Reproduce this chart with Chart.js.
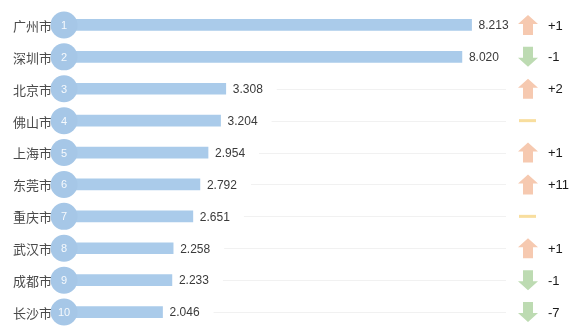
<!DOCTYPE html>
<html>
<head>
<meta charset="utf-8">
<script src="https://cdn.jsdelivr.net/npm/chart.js@4/dist/chart.umd.min.js"></script>
<style>
  html, body { margin: 0; padding: 0; background: #fff; }
  #wrap { width: 587px; height: 334px; position: relative; }
</style>
</head>
<body>
<div id="wrap"><canvas id="chart"></canvas></div>
<script>
// city ranking data
const cities = ['广州市', '深圳市', '北京市', '佛山市', '上海市', '东莞市', '重庆市', '武汉市', '成都市', '长沙市'];
const values = [8.213, 8.020, 3.308, 3.204, 2.954, 2.792, 2.651, 2.258, 2.233, 2.046];
const ranks = [1, 2, 3, 4, 5, 6, 7, 8, 9, 10];
const rankChanges = [1, -1, 2, 0, 1, 11, 0, 1, -1, -7];

const BAR_COLOR = '#aacbea';
const DOT_COLOR = '#a6c7e7';
const UP_COLOR = '#f6c9b0';
const DOWN_COLOR = '#bddbb2';
const FLAT_COLOR = '#f8de9e';
const NUM_FONT = '"Liberation Sans", Arial, sans-serif';
const CJK_FONT = '"Noto Sans CJK SC", sans-serif';

function drawArrow(ctx, cx, cy, up) {
  const dir = up ? -1 : 1;
  ctx.beginPath();
  ctx.moveTo(cx, cy + dir * 10);         // tip
  ctx.lineTo(cx + 10, cy + dir * 1);
  ctx.lineTo(cx + 5, cy + dir * 1);
  ctx.lineTo(cx + 5, cy - dir * 10);
  ctx.lineTo(cx - 5, cy - dir * 10);
  ctx.lineTo(cx - 5, cy + dir * 1);
  ctx.lineTo(cx - 10, cy + dir * 1);
  ctx.closePath();
  ctx.fillStyle = up ? UP_COLOR : DOWN_COLOR;
  ctx.fill();
}

const rowDecor = {
  id: 'rowDecor',
  beforeDatasetsDraw(chart) {
    const { ctx, chartArea } = chart;
    const meta = chart.getDatasetMeta(0);
    ctx.save();
    ctx.font = '12px ' + NUM_FONT;
    meta.data.forEach((bar, i) => {
      const labelEnd = bar.x + 7 + ctx.measureText(values[i].toFixed(3)).width;
      const start = labelEnd + 14;
      if (start < chartArea.right) {
        ctx.strokeStyle = '#f1f1f1';
        ctx.lineWidth = 1;
        ctx.beginPath();
        ctx.moveTo(start, Math.round(bar.y) + 0.5);
        ctx.lineTo(chartArea.right, Math.round(bar.y) + 0.5);
        ctx.stroke();
      }
    });
    ctx.restore();
  },
  afterDatasetsDraw(chart) {
    const { ctx } = chart;
    const meta = chart.getDatasetMeta(0);
    ctx.save();
    meta.data.forEach((bar, i) => {
      const y = bar.y;
      // city name
      ctx.font = '13px ' + CJK_FONT;
      ctx.fillStyle = '#4a4a4a';
      ctx.textAlign = 'right';
      ctx.textBaseline = 'middle';
      ctx.fillText(cities[i], 52, y + 1);

      // rank badge
      ctx.beginPath();
      ctx.arc(64, y, 13.5, 0, Math.PI * 2);
      ctx.fillStyle = DOT_COLOR;
      ctx.fill();
      ctx.font = '11px ' + NUM_FONT;
      ctx.fillStyle = 'rgba(255,255,255,0.9)';
      ctx.textAlign = 'center';
      ctx.fillText(String(ranks[i]), 64, y + 1);

      // value label
      ctx.font = '12px ' + NUM_FONT;
      ctx.fillStyle = '#3a3a3a';
      ctx.textAlign = 'left';
      ctx.fillText(values[i].toFixed(3), bar.x + 7, y + 1);

      // rank change marker
      const c = rankChanges[i];
      if (c === 0) {
        ctx.fillStyle = FLAT_COLOR;
        ctx.fillRect(519, y - 1.5, 17, 3);
      } else {
        drawArrow(ctx, 528, y, c > 0);
        ctx.font = '13px ' + NUM_FONT;
        ctx.fillStyle = '#1a1a1a';
        ctx.textAlign = 'left';
        ctx.fillText((c > 0 ? '+' : '') + c, 548, y + 1);
      }
    });
    ctx.restore();
  }
};

new Chart(document.getElementById('chart'), {
  type: 'bar',
  data: {
    labels: cities,
    datasets: [{
      data: values,
      backgroundColor: BAR_COLOR,
      barThickness: 11,
      borderWidth: 0
    }]
  },
  options: {
    indexAxis: 'y',
    responsive: true,
    maintainAspectRatio: false,
    animation: false,
    layout: { padding: { left: 60, right: 81, top: 9, bottom: 6 } },
    plugins: { legend: { display: false }, tooltip: { enabled: false } },
    scales: {
      x: { display: false, min: 0, max: 8.9 },
      y: { display: false }
    }
  },
  plugins: [rowDecor]
});
</script>
</body>
</html>
